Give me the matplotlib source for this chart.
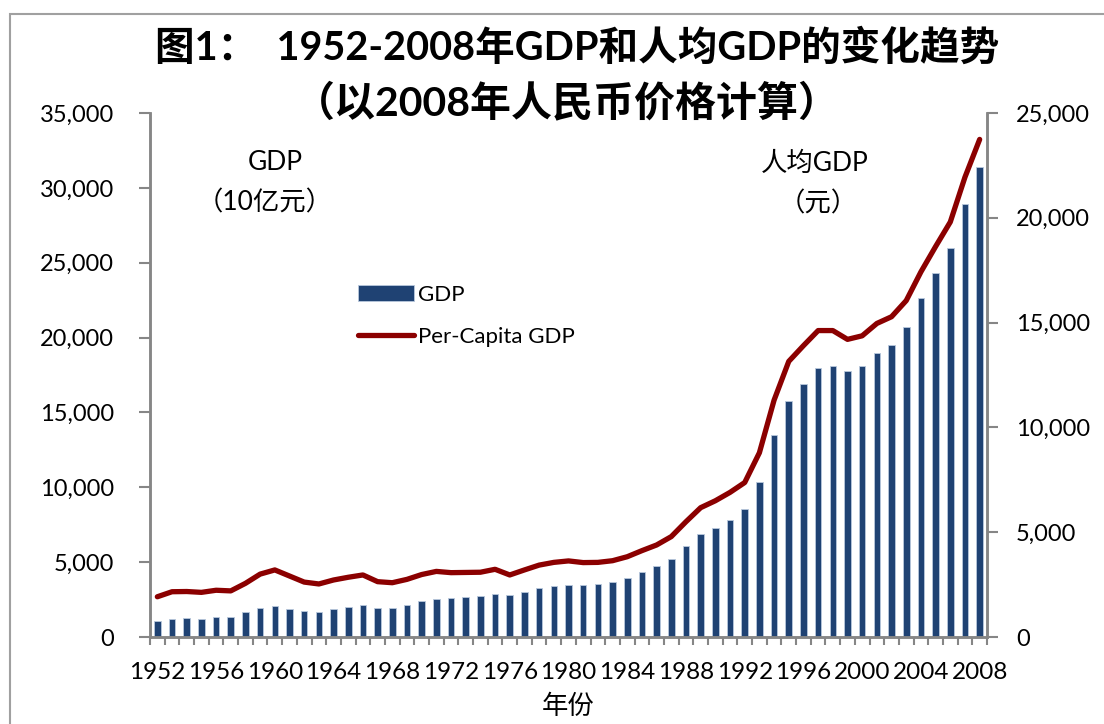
import numpy as np
import matplotlib
matplotlib.use("Agg")
import matplotlib.pyplot as plt
from matplotlib.patches import Rectangle
from matplotlib.ticker import FuncFormatter, MultipleLocator

plt.rcParams['font.family'] = ['Lato', 'Noto Sans CJK SC', 'DejaVu Sans']

years = list(range(1952, 2009))
# GDP, 10亿元 (left axis)
gdp = [1070, 1200, 1250, 1230, 1340, 1340, 1650, 1960, 2100, 1870,
       1720, 1680, 1850, 2030, 2140, 1960, 1960, 2160, 2420, 2570,
       2590, 2670, 2760, 2900, 2790, 3000, 3270, 3400, 3500, 3450,
       3520, 3670, 3940, 4340, 4740, 5240, 6080, 6880, 7290,
       7830, 8560, 10340, 13500, 15780, 16900, 17940, 18120, 17770,
       18100, 18970, 19510, 20680, 22670, 24310, 25960, 28930, 31370]
# per-capita GDP, 元 (right axis)
per_capita = [1920, 2160, 2170, 2130, 2230, 2200, 2560, 3000, 3200, 2910,
              2620, 2530, 2720, 2850, 2960, 2640, 2590, 2750, 2980, 3130,
              3070, 3080, 3090, 3230, 2960, 3200, 3430, 3560, 3630, 3550,
              3560, 3640, 3830, 4120, 4390, 4790, 5500, 6170, 6500,
              6900, 7370, 8790, 11300, 13150, 13900, 14620, 14620, 14200,
              14370, 14960, 15280, 16050, 17420, 18630, 19800, 21940, 23740]
label_years = list(range(1952, 2009, 4))

W, H = 1104, 724
fig = plt.figure(figsize=(W / 100, H / 100), dpi=100)
ax = fig.add_axes([150 / W, 1 - 637 / H, 837 / W, 524 / H])
ax2 = ax.twinx()

x = np.arange(len(years))
bars = ax.bar(x, gdp, width=0.45, color='#1F4273', edgecolor='#B8C8DC',
              linewidth=0.6, label='GDP', zorder=2)
line, = ax2.plot(x, per_capita, color='#8B0000', lw=3.8,
                 solid_joinstyle='round', solid_capstyle='round',
                 label='Per-Capita GDP', zorder=3)

ax.set_xlim(-0.5, len(years) - 0.5)
ax.set_ylim(0, 35000)
ax2.set_ylim(0, 25000)

grey = '#868686'
fmt = FuncFormatter(lambda v, p: f'{int(v):,}')
ax.yaxis.set_major_locator(MultipleLocator(5000))
ax2.yaxis.set_major_locator(MultipleLocator(5000))
ax.yaxis.set_major_formatter(fmt)
ax2.yaxis.set_major_formatter(fmt)

ax.set_xticks([years.index(y) for y in label_years])
ax.set_xticklabels([str(y) for y in label_years])
ax.set_xticks(np.arange(-0.5, len(years)), minor=True)
ax.tick_params(axis='x', which='major', length=0, pad=18, labelsize=17.5)
ax.tick_params(axis='x', which='minor', length=6, width=1.5, color=grey,
               direction='out')
ax.tick_params(axis='y', length=8, width=1.5, color=grey, pad=18, labelsize=17)
ax2.tick_params(axis='y', length=8, width=1.5, color=grey, pad=13, labelsize=17)

for a in (ax, ax2):
    a.spines['top'].set_visible(False)
    for s in ('left', 'right', 'bottom'):
        a.spines[s].set_color(grey)
        a.spines[s].set_linewidth(1.8)

ax.set_xlabel('年份', fontsize=19, labelpad=8)

fig.text(577 / W, 1 - 48 / H, '图1：  1952-2008年GDP和人均GDP的变化趋势',
         ha='center', va='center', fontsize=28.5, fontweight='bold')
fig.text(567 / W, 1 - 102 / H, '（以2008年人民币价格计算）',
         ha='center', va='center', fontsize=29.5, fontweight='bold')

fig.text(275 / W, 1 - 163 / H, 'GDP', ha='center', va='center', fontsize=19)
fig.text(265 / W, 1 - 203 / H, '（10亿元）', ha='center', va='center', fontsize=19)
fig.text(815 / W, 1 - 163 / H, '人均GDP', ha='center', va='center', fontsize=19)
fig.text(818 / W, 1 - 204 / H, '（元）', ha='center', va='center', fontsize=19)

leg = ax.legend([bars, line], ['GDP', 'Per-Capita GDP'],
                loc='upper left', bbox_to_anchor=(338 / W, 1 - 265 / H),
                bbox_transform=fig.transFigure, frameon=False, fontsize=16,
                handlelength=2.5, handletextpad=0.2, labelspacing=1.0)

fig.add_artist(Rectangle((10 / W, -0.1), 1.2, 1.1 - 14 / H,
                         transform=fig.transFigure, fill=False,
                         edgecolor='#A0A0A0', linewidth=1.5))

fig.savefig('out.png', dpi=100)
